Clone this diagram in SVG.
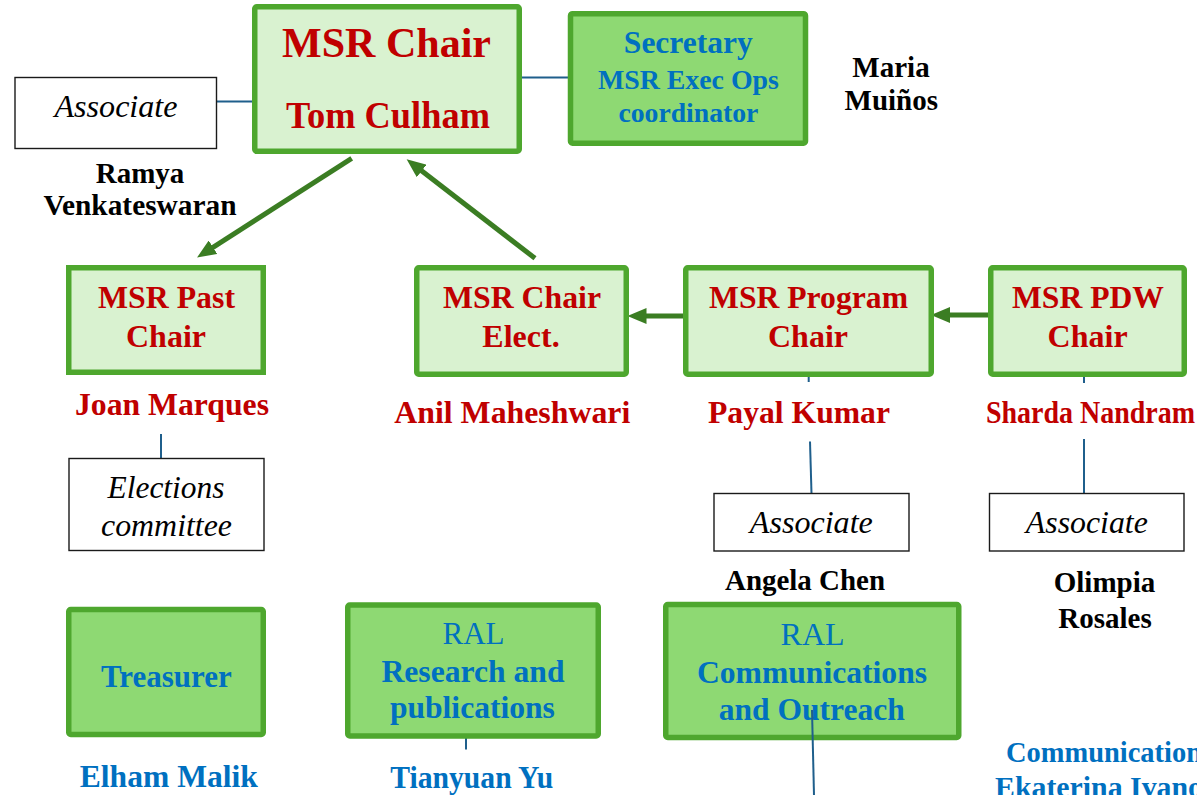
<svg xmlns="http://www.w3.org/2000/svg" width="1197" height="795" viewBox="0 0 1197 795">
<style>
text{font-family:"Liberation Serif","Times New Roman",serif;text-anchor:middle}
.b{font-weight:bold}
.red{fill:#C00000;font-weight:bold;font-size:32px}
.blk{fill:#000;font-weight:bold;font-size:29px}
.blu{fill:#0070C0;font-weight:bold;font-size:32px}
.ral{fill:#0070C0;font-size:31px}
.it{fill:#000;font-style:italic;font-size:31px}
.lt{fill:#D9F2D0;stroke:#4EA72E;stroke-width:5.5}
.dk{fill:#8ED973;stroke:#4EA72E;stroke-width:5.5}
.wb{fill:#fff;stroke:#1a1a1a;stroke-width:1.4}
.cn{stroke:#1F5F8C;stroke-width:2;fill:none}
.ar{stroke:#3B7D23;stroke-width:5;fill:none;marker-end:url(#ah)}
</style>
<defs>
<marker id="ah" markerUnits="userSpaceOnUse" markerWidth="19" markerHeight="16" viewBox="0 0 19 16" refX="1" refY="8" orient="auto">
<path d="M0,0 L19,8 L0,16 z" fill="#3B7D23"/>
</marker>
</defs>
<rect width="1197" height="795" fill="#fff"/>

<g id="connectors">
<line class="cn" x1="217" y1="101.5" x2="253" y2="101.5"/>
<line class="cn" x1="521" y1="77.5" x2="568" y2="77.5"/>
<line class="cn" x1="161" y1="434" x2="161" y2="458.5"/>
<line class="cn" x1="808.7" y1="376" x2="808.7" y2="382"/>
<line class="cn" x1="810" y1="441.5" x2="811.5" y2="493.5"/>
<line class="cn" x1="1084" y1="376" x2="1084" y2="383"/>
<line class="cn" x1="1084" y1="439" x2="1084" y2="493.5"/>
<line class="cn" x1="466" y1="738" x2="466" y2="749.5"/>
<path class="ar" d="M351.7,158.3 L212.2,247.8"/>
<path class="ar" d="M535,258.3 L420.9,170.3"/>
<path class="ar" d="M685,316 L645.5,316"/>
<path class="ar" d="M988,315 L949,315"/>
</g>

<g id="assoc-chair">
<rect class="wb" x="15" y="77.5" width="201.5" height="71"/>
<text class="it" x="116" y="117" textLength="123" lengthAdjust="spacingAndGlyphs">Associate</text>
<text class="blk" x="140" y="183">Ramya</text>
<text class="blk" x="140" y="215" textLength="193" lengthAdjust="spacingAndGlyphs">Venkateswaran</text>
</g>

<g id="msr-chair">
<rect class="lt" x="254.75" y="6.75" width="264.5" height="144.5" rx="2"/>
<text class="red" x="386.5" y="57" font-size="43" style="font-size:43px" textLength="209" lengthAdjust="spacingAndGlyphs">MSR Chair</text>
<text class="red" x="388" y="128" style="font-size:37px" textLength="204" lengthAdjust="spacingAndGlyphs">Tom Culham</text>
</g>

<g id="secretary">
<rect class="dk" x="570.5" y="13.7" width="235" height="129.5" rx="2"/>
<text class="blu" x="688.3" y="53" style="font-size:31.5px">Secretary</text>
<text class="blu" x="688.4" y="89" style="font-size:28px" textLength="181" lengthAdjust="spacingAndGlyphs">MSR Exec Ops</text>
<text class="blu" x="688.4" y="122" style="font-size:28px" textLength="140" lengthAdjust="spacingAndGlyphs">coordinator</text>
<text class="blk" x="891" y="77">Maria</text>
<text class="blk" x="891.3" y="110">Muiños</text>
</g>

<g id="past-chair">
<rect class="lt" x="68.75" y="267.75" width="194.5" height="104.5"/>
<text class="red" x="166.5" y="308" textLength="137" lengthAdjust="spacingAndGlyphs">MSR Past</text>
<text class="red" x="166" y="347">Chair</text>
<text class="red" x="172" y="415" style="font-size:31px" textLength="194" lengthAdjust="spacingAndGlyphs">Joan Marques</text>
</g>

<g id="elections">
<rect class="wb" x="69" y="458.5" width="195" height="92"/>
<text class="it" x="166" y="498" textLength="117" lengthAdjust="spacingAndGlyphs">Elections</text>
<text class="it" x="166.5" y="536" textLength="131" lengthAdjust="spacingAndGlyphs">committee</text>
</g>

<g id="chair-elect">
<rect class="lt" x="416.75" y="267.75" width="209.5" height="106.5" rx="2"/>
<text class="red" x="522" y="308" textLength="158" lengthAdjust="spacingAndGlyphs">MSR Chair</text>
<text class="red" x="521" y="347">Elect.</text>
<text class="red" x="512.3" y="423" textLength="236" lengthAdjust="spacingAndGlyphs">Anil Maheshwari</text>
</g>

<g id="program-chair">
<rect class="lt" x="685.75" y="267.75" width="245.5" height="106.5" rx="2"/>
<text class="red" x="808.5" y="308" textLength="199" lengthAdjust="spacingAndGlyphs">MSR Program</text>
<text class="red" x="808" y="347">Chair</text>
<text class="red" x="799" y="423" textLength="182" lengthAdjust="spacingAndGlyphs">Payal Kumar</text>
</g>

<g id="assoc-program">
<rect class="wb" x="714" y="493.5" width="195" height="57.5"/>
<text class="it" x="811.3" y="533" textLength="123" lengthAdjust="spacingAndGlyphs">Associate</text>
<text class="blk" x="805" y="590" textLength="160" lengthAdjust="spacingAndGlyphs">Angela Chen</text>
</g>

<g id="pdw-chair">
<rect class="lt" x="990.75" y="267.75" width="193.5" height="106.5" rx="2"/>
<text class="red" x="1088" y="308" textLength="152" lengthAdjust="spacingAndGlyphs">MSR PDW</text>
<text class="red" x="1087.6" y="347">Chair</text>
<text class="red" x="986" y="423" style="font-size:31px;text-anchor:start" textLength="209" lengthAdjust="spacingAndGlyphs">Sharda Nandram</text>
</g>

<g id="assoc-pdw">
<rect class="wb" x="989.5" y="493.5" width="194.5" height="57.5"/>
<text class="it" x="1086.8" y="533" textLength="122" lengthAdjust="spacingAndGlyphs">Associate</text>
<text class="blk" x="1104.5" y="592">Olimpia</text>
<text class="blk" x="1105" y="628">Rosales</text>
</g>

<g id="treasurer">
<rect class="dk" x="68.75" y="609.5" width="194.5" height="125" rx="2"/>
<text class="blu" x="166.4" y="687" style="font-size:31px">Treasurer</text>
<text class="blu" x="168.8" y="787" textLength="178" lengthAdjust="spacingAndGlyphs">Elham Malik</text>
</g>

<g id="ral-research">
<rect class="dk" x="347.75" y="605" width="250.5" height="131" rx="2"/>
<text class="ral" x="473.5" y="644">RAL</text>
<text class="blu" x="473" y="682" textLength="183" lengthAdjust="spacingAndGlyphs">Research and</text>
<text class="blu" x="472.4" y="718" textLength="165" lengthAdjust="spacingAndGlyphs">publications</text>
<text class="blu" x="471.7" y="788" textLength="163" lengthAdjust="spacingAndGlyphs">Tianyuan Yu</text>
</g>

<g id="ral-communications">
<rect class="dk" x="665.75" y="604.5" width="293" height="133" rx="2"/>
<text class="ral" x="812.6" y="645" style="font-size:32px">RAL</text>
<text class="blu" x="812" y="683" textLength="230" lengthAdjust="spacingAndGlyphs">Communications</text>
<text class="blu" x="811.8" y="720" textLength="186" lengthAdjust="spacingAndGlyphs">and Outreach</text>
<line class="cn" x1="812" y1="710" x2="814" y2="795"/>
<text class="blu" x="1006" y="762" style="font-size:30px;text-anchor:start" textLength="196" lengthAdjust="spacingAndGlyphs">Communication</text>
<text class="blu" x="995" y="797" style="font-size:30px;text-anchor:start" textLength="208" lengthAdjust="spacingAndGlyphs">Ekaterina Ivano</text>
</g>
</svg>
